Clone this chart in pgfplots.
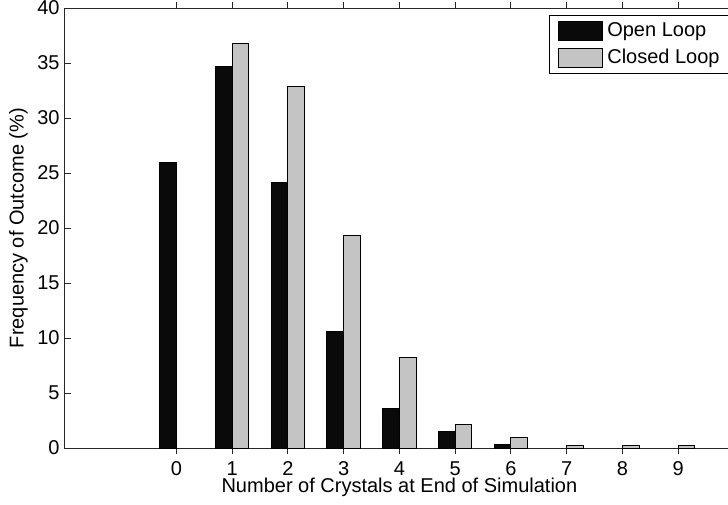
\documentclass[border=0pt]{standalone}
\usepackage{fontspec}
\setmainfont{Liberation Sans}
\usepackage{pgfplots}
\pgfplotsset{compat=1.18}
\definecolor{openbar}{HTML}{0A0A0A}
\definecolor{closedbar}{HTML}{C4C4C4}
\definecolor{axisgray}{HTML}{262626}
\begin{document}
\begin{tikzpicture}
\useasboundingbox (0,0) rectangle (364pt,252pt);
\clip (0,0) rectangle (364pt,252pt);
\begin{axis}[
  at={(32.5pt,28pt)}, anchor=south west,
  scale only axis, width=334.4pt, height=220pt,
  xmin=-2, xmax=10, ymin=0, ymax=40,
  xtick={0,...,9}, ytick={0,5,...,40},
  tick align=inside, major tick length=3pt,
  axis line style={line width=0.5pt, draw=axisgray},
  every tick/.style={axisgray, line width=0.5pt},
  ybar, bar width=0.3,
  font=\fontsize{10}{12}\selectfont,
  /pgf/number format/assume math mode=true,
  xticklabel style={anchor=base, yshift=-10.5pt, font=\fontsize{10}{12}\selectfont},
  yticklabel style={anchor=east, inner sep=0pt, xshift=-2.5pt, font=\fontsize{10}{12}\selectfont},
  xlabel={Number of Crystals at End of Simulation},
  ylabel={Frequency of Outcome (\%)},
  xlabel style={at={(axis description cs:0.5,-0.1016)}, anchor=base, inner sep=0pt},
  ylabel style={at={(axis description cs:-0.0695,0.5)}, anchor=center, inner sep=0pt},
  legend cell align=left,
  legend style={at={(axis description cs:0.7237,0.984)}, anchor=north west,
    draw=black, line width=0.5pt, inner xsep=4.35pt, inner ysep=2.5pt,
    row sep=3.85pt, column sep=2.35pt, nodes={inner sep=0pt},
    font=\fontsize{10}{12}\selectfont},
  legend image code/.code={\draw[#1] (0pt,-4.75pt) rectangle (21.7pt,4.75pt);},
]
% open-loop controller
\addplot[fill=openbar, draw=black, line width=0.5pt, bar shift=-0.15]
  coordinates {(0,26.0) (1,34.7) (2,24.1) (3,10.6) (4,3.6) (5,1.5) (6,0.3)};
% closed-loop controller
\addplot[fill=closedbar, draw=black, line width=0.5pt, bar shift=0.15]
  coordinates {(1,36.8) (2,32.9) (3,19.3) (4,8.2) (5,2.1) (6,1.0) (7,0.2) (8,0.2) (9,0.2)};
\legend{Open Loop, Closed Loop}
\end{axis}
\end{tikzpicture}
\end{document}
